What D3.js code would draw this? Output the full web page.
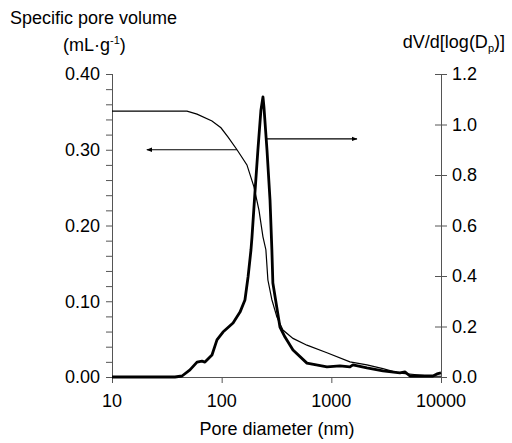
<!DOCTYPE html>
<html>
<head>
<meta charset="utf-8">
<script src="https://cdn.jsdelivr.net/npm/d3@7"></script>
<style>
  body { margin: 0; background: #fff; }
  text { font-family: "Liberation Sans", Arial, sans-serif; fill: #000; }
</style>
</head>
<body>
<svg id="chart" width="512" height="443"></svg>
<script>
// cumulative pore volume (left axis)
var cumDiam = [10, 48.3, 59.6, 81.6, 98.5, 114, 138, 170, 197, 219, 238, 253, 264, 287, 319, 362, 447, 599, 912, 1478, 2111, 2953, 4220, 6030, 8440, 10000];
var cumVol  = [0.351, 0.351, 0.347, 0.338, 0.329, 0.317, 0.300, 0.280, 0.251, 0.220, 0.185, 0.168, 0.128, 0.102, 0.079, 0.062, 0.051, 0.042, 0.032, 0.020, 0.016, 0.011, 0.005, 0.003, 0.001, 0.001];

// differential distribution (right axis)
var difDiam = [10, 37.5, 43.5, 51.4, 59.6, 66.1, 70.4, 81.6, 90.6, 102.8, 127, 147, 163, 174, 185, 189, 201, 214, 228, 238, 243, 259, 276, 287, 293, 340, 378, 447, 599, 912, 1197, 1478, 1574, 2111, 2953, 4220, 4690, 5207, 7430, 8440, 9180, 10000];
var difVal  = [0, 0, 0.004, 0.028, 0.059, 0.063, 0.059, 0.087, 0.147, 0.178, 0.214, 0.257, 0.305, 0.396, 0.503, 0.554, 0.729, 0.899, 1.057, 1.109, 1.069, 0.899, 0.701, 0.503, 0.372, 0.198, 0.158, 0.107, 0.055, 0.040, 0.044, 0.040, 0.048, 0.036, 0.024, 0.016, 0.020, 0.004, 0.004, 0.004, 0.012, 0.016];

var xTicks = [10, 100, 1000, 10000];
var leftTicks = [0, 0.1, 0.2, 0.3, 0.4];
var rightTicks = [0, 0.2, 0.4, 0.6, 0.8, 1.0, 1.2];

// arrows: [x from, x to, y]
var leftArrow = [138, 20.8, 0.30];
var rightArrow = [259, 1712, 0.943];

var svg = d3.select("#chart");
var pl = 112, pr = 441, pt = 74, pb = 377;

var x = d3.scaleLog().domain([10, 10000]).range([pl, pr]);
var yL = d3.scaleLinear().domain([0, 0.4]).range([pb, pt]);
var yR = d3.scaleLinear().domain([0, 1.2]).range([pb, pt]);

var axisColor = "#555";
var fs = 18;

// marker for arrows
svg.append("defs").append("marker")
  .attr("id", "head")
  .attr("viewBox", "0 0 10 10")
  .attr("refX", 9).attr("refY", 5)
  .attr("markerWidth", 6).attr("markerHeight", 6)
  .attr("markerUnits", "userSpaceOnUse")
  .attr("orient", "auto")
  .append("path").attr("d", "M0,1 L10,5 L0,9 Z").attr("fill", "#000");

// left axis
var gL = svg.append("g");
gL.append("line").attr("x1", pl + 0.5).attr("x2", pl + 0.5).attr("y1", pt).attr("y2", pb)
  .attr("stroke", axisColor);
gL.selectAll("line.t").data(d3.range(0, 21).map(function(i) { return i * 0.02; }))
  .enter().append("line").attr("class", "t")
  .attr("x1", pl - 6).attr("x2", pl)
  .attr("y1", function(d) { return yL(d) + 0.5; })
  .attr("y2", function(d) { return yL(d) + 0.5; })
  .attr("stroke", axisColor);
gL.selectAll("text").data(leftTicks).enter().append("text")
  .attr("x", 100).attr("y", function(d) { return yL(d); })
  .attr("dy", "0.35em")
  .attr("text-anchor", "end")
  .style("font-size", fs + "px")
  .text(function(d) { return d3.format(".2f")(d); });

// right axis
var gR = svg.append("g");
gR.append("line").attr("x1", pr + 0.5).attr("x2", pr + 0.5).attr("y1", pt).attr("y2", pb)
  .attr("stroke", axisColor);
gR.selectAll("line.t").data(rightTicks).enter().append("line").attr("class", "t")
  .attr("x1", pr - 6).attr("x2", pr + 6)
  .attr("y1", function(d) { return yR(d) + 0.5; })
  .attr("y2", function(d) { return yR(d) + 0.5; })
  .attr("stroke", axisColor);
gR.selectAll("text").data(rightTicks).enter().append("text")
  .attr("x", 452).attr("y", function(d) { return yR(d); })
  .attr("dy", "0.35em")
  .style("font-size", fs + "px")
  .text(function(d) { return d3.format(".1f")(d); });

// bottom axis
var gB = svg.append("g");
gB.append("line").attr("x1", pl).attr("x2", pr).attr("y1", pb + 0.5).attr("y2", pb + 0.5)
  .attr("stroke", axisColor);
gB.selectAll("line.t").data(xTicks).enter().append("line").attr("class", "t")
  .attr("x1", function(d) { return x(d) + 0.5; })
  .attr("x2", function(d) { return x(d) + 0.5; })
  .attr("y1", pb).attr("y2", pb + 6)
  .attr("stroke", axisColor);
gB.selectAll("text").data(xTicks).enter().append("text")
  .attr("x", function(d) { return x(d); }).attr("y", 407)
  .attr("text-anchor", "middle")
  .style("font-size", fs + "px")
  .text(function(d) { return d; });

// curves
var lineL = d3.line().x(function(d) { return x(d[0]); }).y(function(d) { return yL(d[1]); });
var lineR = d3.line().x(function(d) { return x(d[0]); }).y(function(d) { return yR(d[1]); });

svg.append("path")
  .attr("d", lineL(d3.zip(cumDiam, cumVol)))
  .attr("fill", "none").attr("stroke", "#000").attr("stroke-width", 1.2);

svg.append("path")
  .attr("d", lineR(d3.zip(difDiam, difVal)))
  .attr("fill", "none").attr("stroke", "#000").attr("stroke-width", 2.8)
  .attr("stroke-linejoin", "round");

// arrows
svg.append("line")
  .attr("x1", x(leftArrow[0])).attr("x2", x(leftArrow[1]))
  .attr("y1", yL(leftArrow[2])).attr("y2", yL(leftArrow[2]))
  .attr("stroke", "#000").attr("stroke-width", 1.2)
  .attr("marker-end", "url(#head)");
svg.append("line")
  .attr("x1", x(rightArrow[0])).attr("x2", x(rightArrow[1]))
  .attr("y1", yR(rightArrow[2])).attr("y2", yR(rightArrow[2]))
  .attr("stroke", "#000").attr("stroke-width", 1.2)
  .attr("marker-end", "url(#head)");

// titles
svg.append("text").attr("x", 10).attr("y", 24).style("font-size", fs + "px")
  .text("Specific pore volume");
var u = svg.append("text").attr("x", 63).attr("y", 51).style("font-size", fs + "px");
u.append("tspan").text("(mL·g");
u.append("tspan").attr("dy", -7).style("font-size", "11px").text("-1");
u.append("tspan").attr("dy", 7).text(")");

var r = svg.append("text").attr("x", 505).attr("y", 48).attr("text-anchor", "end")
  .style("font-size", fs + "px");
r.append("tspan").text("dV/d[log(D");
r.append("tspan").attr("dy", 4).style("font-size", "11px").text("p");
r.append("tspan").attr("dy", -4).text(")]");

svg.append("text").attr("x", 277).attr("y", 435).attr("text-anchor", "middle")
  .style("font-size", fs + "px").text("Pore diameter (nm)");
</script>
</body>
</html>
